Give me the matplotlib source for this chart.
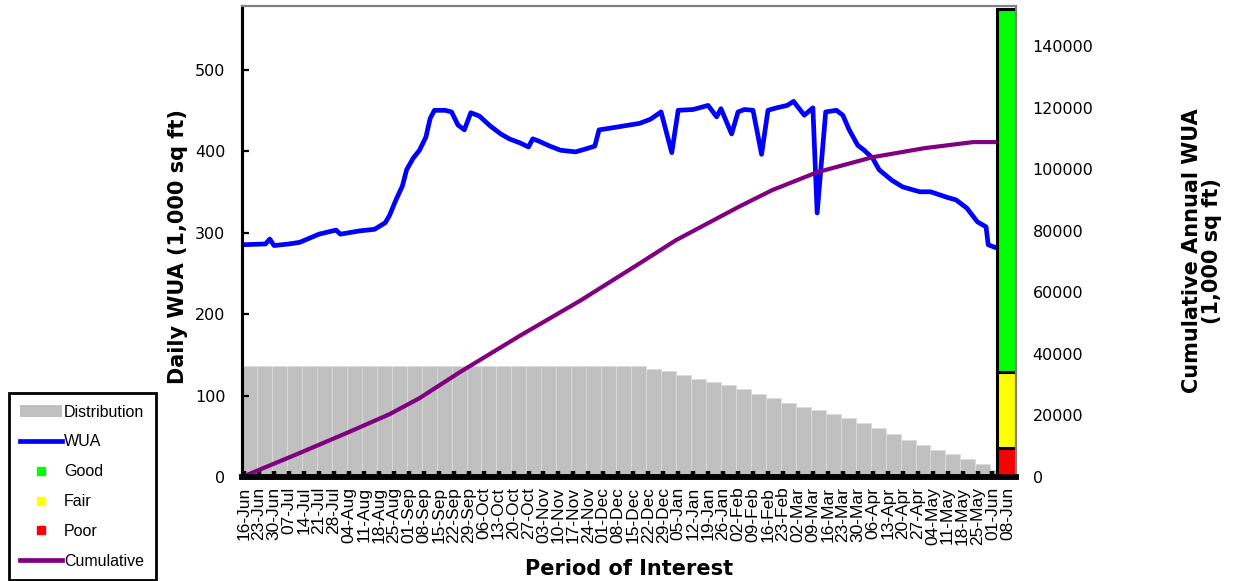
import matplotlib
matplotlib.use("Agg")
import matplotlib.pyplot as plt
from matplotlib.lines import Line2D
from matplotlib.patches import Patch
import numpy as np

# weekly axis labels, starting 16-Jun
week_labels = ['16-Jun', '23-Jun', '30-Jun', '07-Jul', '14-Jul', '21-Jul', '28-Jul',
               '04-Aug', '11-Aug', '18-Aug', '25-Aug', '01-Sep', '08-Sep', '15-Sep',
               '22-Sep', '29-Sep', '06-Oct', '13-Oct', '20-Oct', '27-Oct', '03-Nov',
               '10-Nov', '17-Nov', '24-Nov', '01-Dec', '08-Dec', '15-Dec', '22-Dec',
               '29-Dec', '05-Jan', '12-Jan', '19-Jan', '26-Jan', '02-Feb', '09-Feb',
               '16-Feb', '23-Feb', '02-Mar', '09-Mar', '16-Mar', '23-Mar', '30-Mar',
               '06-Apr', '13-Apr', '20-Apr', '27-Apr', '04-May', '11-May', '18-May',
               '25-May', '01-Jun', '08-Jun']

# daily WUA (1,000 sq ft), day = days after 16-Jun
wua_day = [0, 11, 13, 15, 22, 27, 36, 44, 46, 55, 62, 67, 69, 72, 75, 77, 80, 83, 86,
           88, 90, 95, 98, 101, 104, 107, 111, 116, 121, 125, 130, 134, 136, 139, 144,
           149, 156, 160, 165, 167, 172, 179, 186, 191, 196, 201, 204, 211, 218, 222,
           224, 229, 232, 235, 239, 243, 246, 250, 255, 258, 260, 263, 267, 269, 273,
           278, 281, 284, 288, 291, 295, 298, 304, 309, 317, 322, 330, 334, 339, 344,
           348, 349, 353]
wua_val = [285, 286, 292, 284, 286, 288, 298, 303, 298, 302, 304, 312, 321, 340, 357,
           377, 391, 401, 417, 440, 450, 450, 448, 432, 426, 447, 443, 431, 421, 415,
           410, 405, 415, 412, 406, 401, 399, 402, 406, 426, 428, 431, 434, 439, 448,
           398, 450, 451, 456, 442, 452, 421, 448, 451, 450, 396, 450, 453, 456, 461,
           454, 444, 453, 324, 448, 450, 444, 426, 407, 401, 391, 377, 364, 356, 350,
           350, 343, 340, 330, 313, 307, 285, 281]

# cumulative annual WUA
cum_day = [0, 27, 50, 69, 83, 102, 130, 158, 186, 203, 233, 248, 269, 295, 319, 342, 353]
cum_val = [0, 7800, 14600, 20400, 25600, 34100, 45900, 57200, 69400, 76950, 88000,
           93200, 99000, 103900, 106800, 108800, 108800]

# flow distribution, one value per week
dist_val = [136] * 27 + [133, 130, 125, 120, 116, 113, 108, 102, 97, 91, 86, 82, 77,
                         72, 66, 60, 53, 46, 39, 33, 28, 22, 16, 9]

# rating bands on the cumulative scale
band_names = ['Poor', 'Fair', 'Good']
band_tops = [9400, 34000, 152000]
band_colors = ['#FF0000', '#FFFF00', '#00FF00']

fig = plt.figure(figsize=(12.39, 5.81), dpi=100)
ax = fig.add_axes([242 / 1239, 104 / 581, 774 / 1239, 471 / 581])
ax2 = ax.twinx()

week_x = np.arange(len(dist_val)) * 7
ax.bar(week_x, dist_val, width=7, align='edge', color='#C0C0C0',
       edgecolor='#DCDCDC', linewidth=0.6, zorder=1)
ax.plot(wua_day, wua_val, color='#0000FF', lw=3.4, solid_joinstyle='round', zorder=3)

ax2.plot(cum_day, cum_val, color='#800080', lw=3.0, solid_capstyle='butt')
bottom = 0
for name, top, c in zip(band_names, band_tops, band_colors):
    ax2.bar(357.5, top - bottom, bottom=bottom, width=9, color=c,
            edgecolor='black', linewidth=2.2)
    bottom = top

ax.set_xlim(0, 362)
ax.set_ylim(0, 578)
ax2.set_ylim(0, 153000)

ax.set_xticks(np.arange(len(week_labels)) * 7 + 1)
ax.set_xticklabels(week_labels, rotation=90, family='Liberation Sans', fontsize=12.5)
ax.tick_params(axis='x', direction='in', length=4.5, width=3.2, pad=7, color='black')
ax.set_yticks([0, 100, 200, 300, 400, 500])
ax.tick_params(axis='y', direction='in', length=5, width=1.6, pad=12, labelsize=11.5)
ax2.set_yticks(np.arange(0, 140001, 20000))
ax2.tick_params(axis='y', length=0, pad=12, labelsize=11.5)

for a in (ax, ax2):
    a.spines['top'].set_color('#808080')
    a.spines['top'].set_linewidth(1.5)
    a.spines['right'].set_color('#808080')
    a.spines['right'].set_linewidth(1.5)
    a.spines['left'].set_linewidth(2.2)
    a.spines['bottom'].set_linewidth(4)

ax.set_ylabel('Daily WUA (1,000 sq ft)', fontsize=15, fontweight='bold')
ax.yaxis.set_label_coords(-0.07, 0.49)
ax2.set_ylabel('Cumulative Annual WUA\n(1,000 sq ft)', fontsize=15,
               fontweight='bold', rotation=90, linespacing=1.0)
ax2.yaxis.set_label_coords(1.215, 0.48)
ax.set_xlabel('Period of Interest', fontsize=15, fontweight='bold')
ax.xaxis.set_label_coords(0.5, -0.175)

handles = [Patch(facecolor='#C0C0C0', edgecolor='none'),
           Line2D([], [], color='#0000FF', lw=3.4),
           Line2D([], [], marker='s', ls='none', ms=6, color='#00FF00'),
           Line2D([], [], marker='s', ls='none', ms=6, color='#FFFF00'),
           Line2D([], [], marker='s', ls='none', ms=6, color='#FF0000'),
           Line2D([], [], color='#800080', lw=3.4)]
labels = ['Distribution', 'WUA', 'Good', 'Fair', 'Poor', 'Cumulative']
leg = fig.legend(handles, labels, loc='lower left', bbox_to_anchor=(9 / 1239, 1 / 581),
                 borderaxespad=0, fancybox=False, edgecolor='black', framealpha=1,
                 prop={'family': 'Liberation Sans', 'size': 11.5},
                 handlelength=2.6, handletextpad=0.15, labelspacing=0.93,
                 borderpad=0.7)
leg.get_frame().set_linewidth(2)

fig.savefig('out.png', dpi=100)
